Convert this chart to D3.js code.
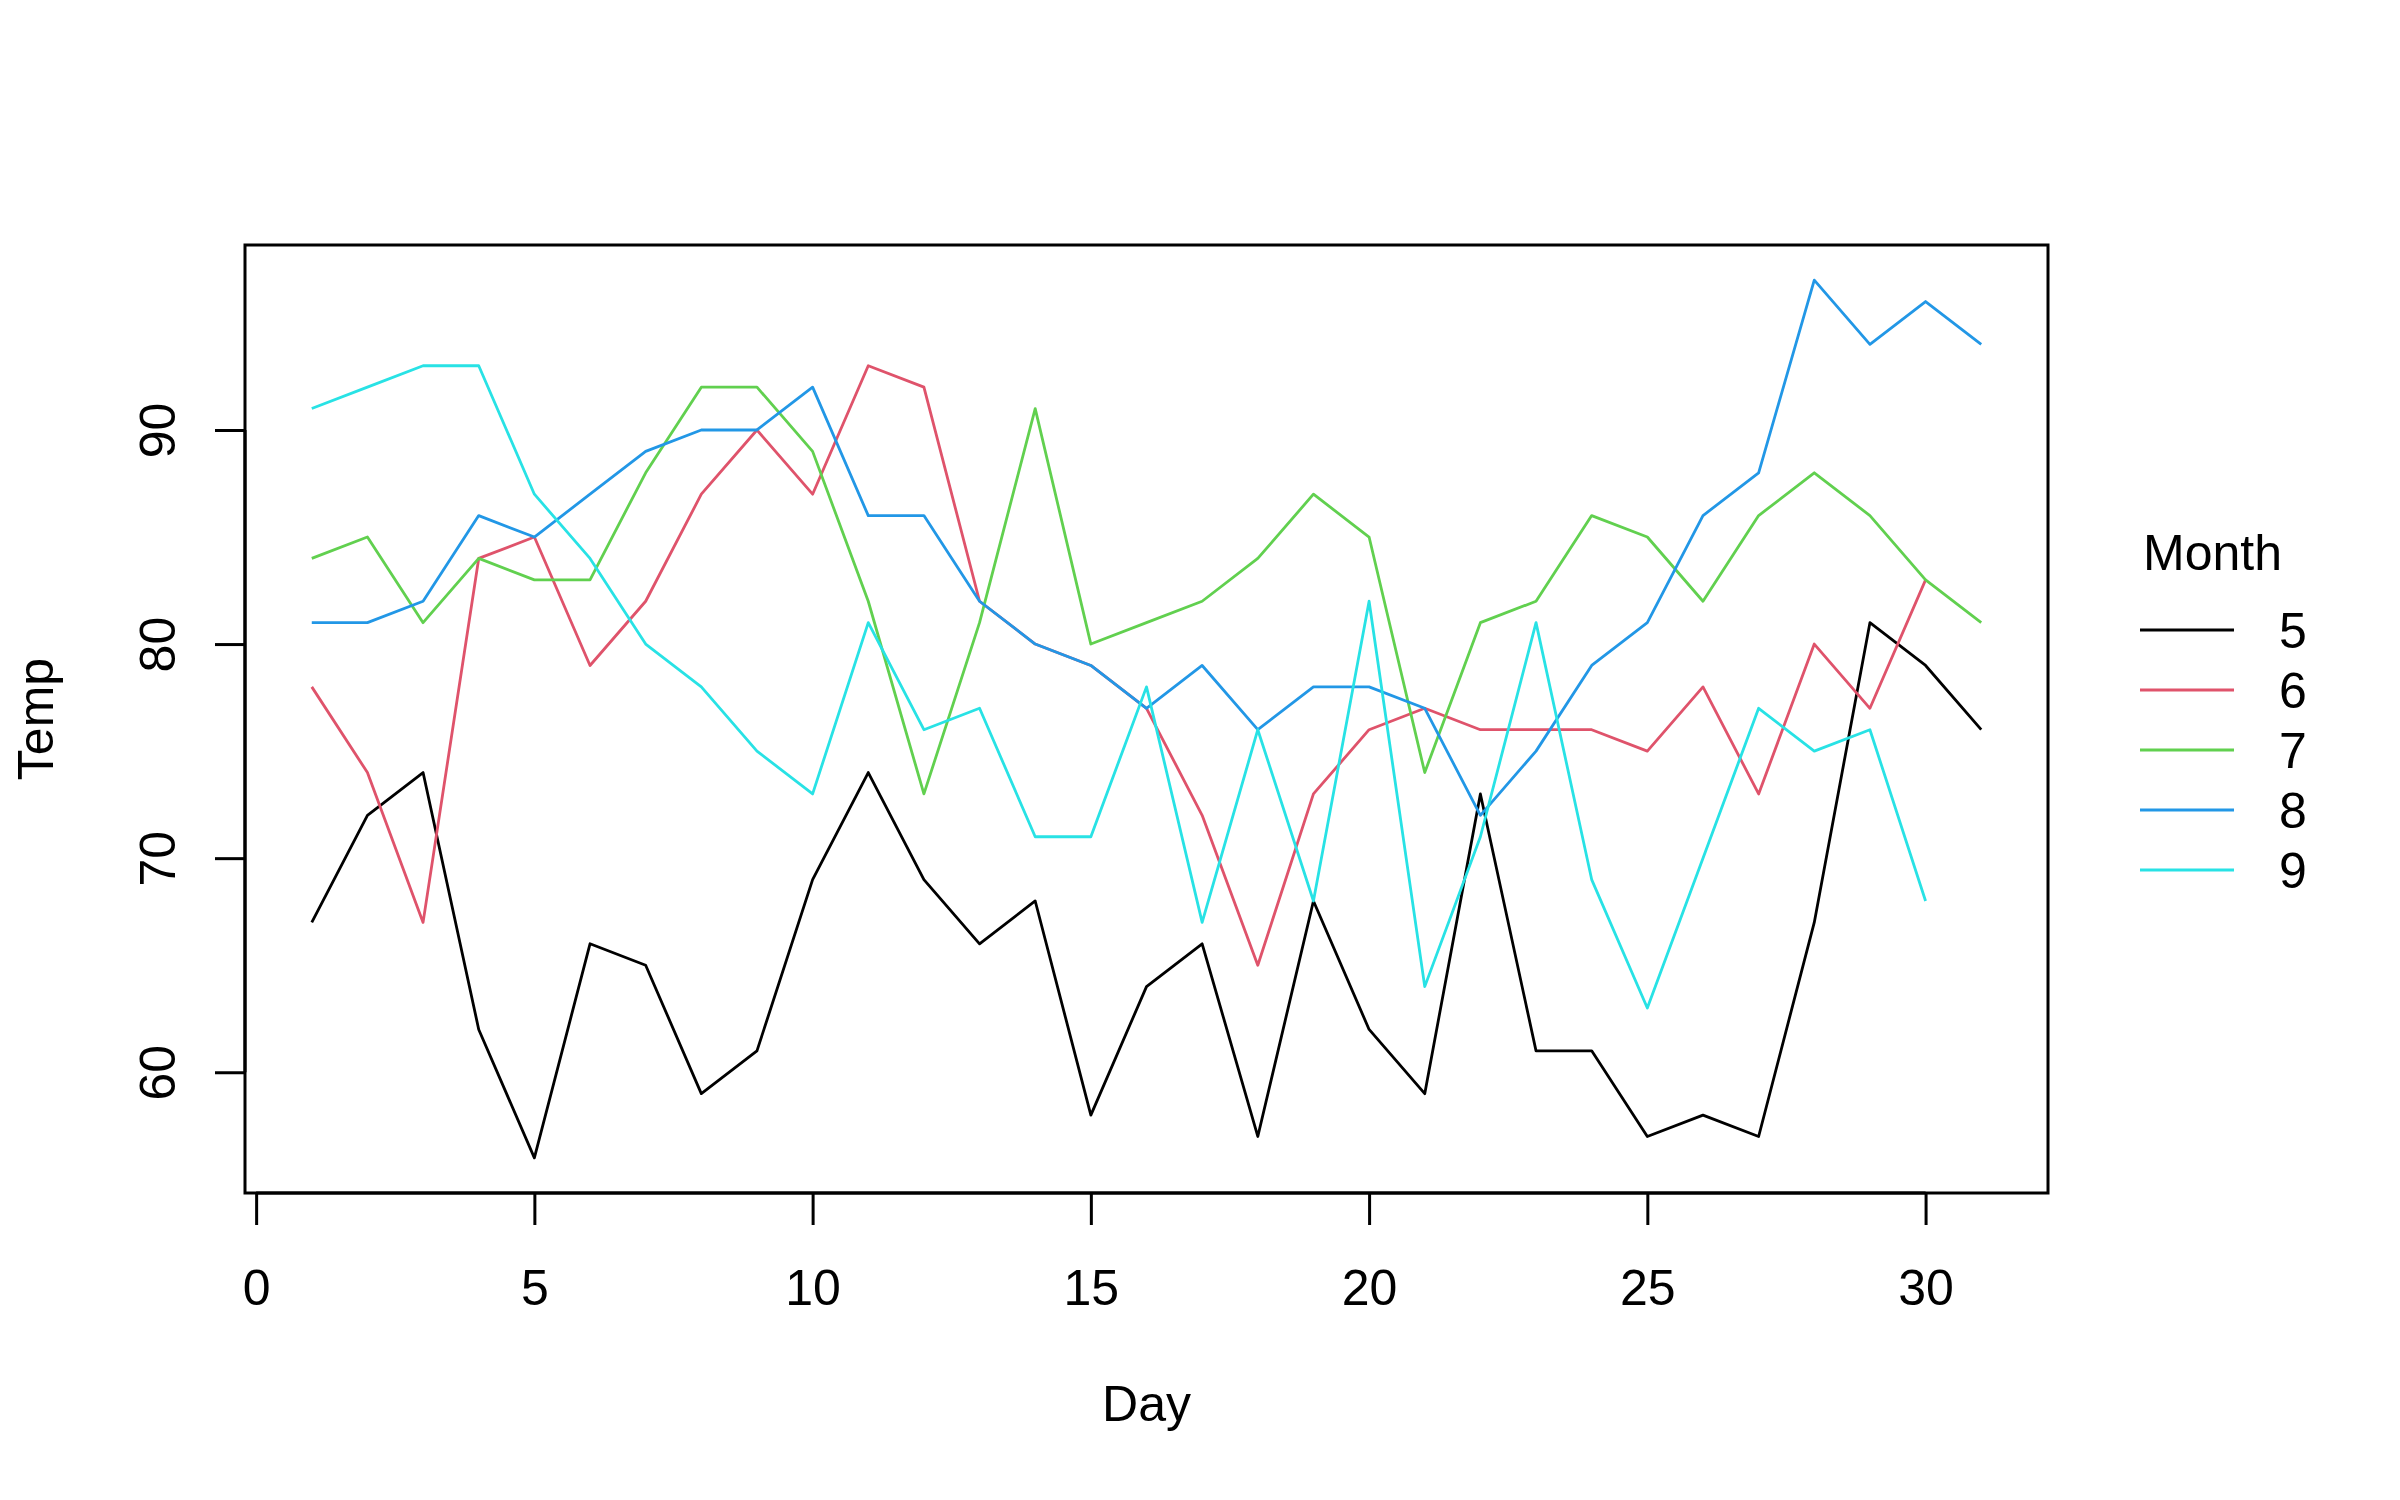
<!DOCTYPE html>
<html><head><meta charset="utf-8">
<script src="https://cdn.jsdelivr.net/npm/d3@7"></script>
<style>body{margin:0;background:#fff}text{font-family:"Liberation Sans",Arial,sans-serif}</style>
</head><body><svg id="c" width="2400" height="1500"></svg>
<script>
const months = ["5","6","7","8","9"];
const colors = ["#000000","#DF536B","#61D04F","#2297E6","#28E2E5"];
const may  = [67,72,74,62,56,66,65,59,61,69,74,69,66,68,58,64,66,57,68,62,59,73,61,61,57,58,57,67,81,79,76];
const june = [78,74,67,84,85,79,82,87,90,87,93,92,82,80,79,77,72,65,73,76,77,76,76,76,75,78,73,80,77,83];
const july = [84,85,81,84,83,83,88,92,92,89,82,73,81,91,80,81,82,84,87,85,74,81,82,86,85,82,86,88,86,83,81];
const aug  = [81,81,82,86,85,87,89,90,90,92,86,86,82,80,79,77,79,76,78,78,77,72,75,79,81,86,88,97,94,96,94];
const sep  = [91,92,93,93,87,84,80,78,75,73,81,76,77,71,71,78,67,76,68,82,64,71,81,69,63,70,77,75,76,68];
const series = [may, june, july, aug, sep];
const xTicks = [0,5,10,15,20,25,30];
const yTicks = [60,70,80,90];

const svg = d3.select("#c");
const L=245, R=2048, T=245, B=1193;
const x = d3.scaleLinear().domain([-0.2,32.2]).range([L,R]);
const y = d3.scaleLinear().domain([54.36,98.64]).range([B,T]);

const line = d3.line().x((d,i)=>x(i+1)).y(d=>y(d));
series.forEach((s,k)=>{
  svg.append("path").datum(s).attr("d",line).attr("fill","none")
    .attr("stroke",colors[k]).attr("stroke-width",2.8).attr("stroke-linejoin","round");
});

svg.append("rect").attr("x",L).attr("y",T).attr("width",R-L).attr("height",B-T)
  .attr("fill","none").attr("stroke","#000").attr("stroke-width",3);

// x axis
const xa = svg.append("g").attr("transform",`translate(0,${B})`)
  .call(d3.axisBottom(x).tickValues(xTicks).tickSize(32).tickPadding(44).tickFormat(d3.format("d")));
xa.select(".domain").attr("d",`M${x(0)},0H${x(30)}`).attr("stroke-width",3);
xa.selectAll(".tick line").attr("stroke-width",3);
xa.selectAll("text").attr("font-size",50).attr("fill","#000").attr("font-family","Liberation Sans, Arial, sans-serif");

// y axis
const ya = svg.append("g").attr("transform",`translate(${L},0)`)
  .call(d3.axisLeft(y).tickValues(yTicks).tickSize(30).tickFormat(d3.format("d")));
ya.select(".domain").attr("d",`M0,${y(60)}V${y(90)}`).attr("stroke-width",3);
ya.selectAll(".tick line").attr("stroke-width",3);
ya.selectAll("text").remove();
ya.selectAll(".tick").append("text").attr("transform","translate(-70,0) rotate(-90)")
  .attr("text-anchor","middle").attr("font-size",50).attr("fill","#000").text(d=>d);

svg.append("text").attr("x",(L+R)/2).attr("y",1421).attr("text-anchor","middle").attr("font-size",50).text("Day");
svg.append("text").attr("transform",`translate(53,${(T+B)/2}) rotate(-90)`).attr("text-anchor","middle").attr("font-size",50).text("Temp");

// legend
const lg = svg.append("g");
lg.append("text").attr("x",2143).attr("y",570).attr("font-size",50).text("Month");
months.forEach((m,k)=>{
  const yy = 630 + k*60;
  lg.append("line").attr("x1",2140).attr("x2",2234).attr("y1",yy).attr("y2",yy)
    .attr("stroke",colors[k]).attr("stroke-width",3);
  lg.append("text").attr("x",2279).attr("y",yy+18).attr("font-size",50).text(m);
});
</script></body></html>
